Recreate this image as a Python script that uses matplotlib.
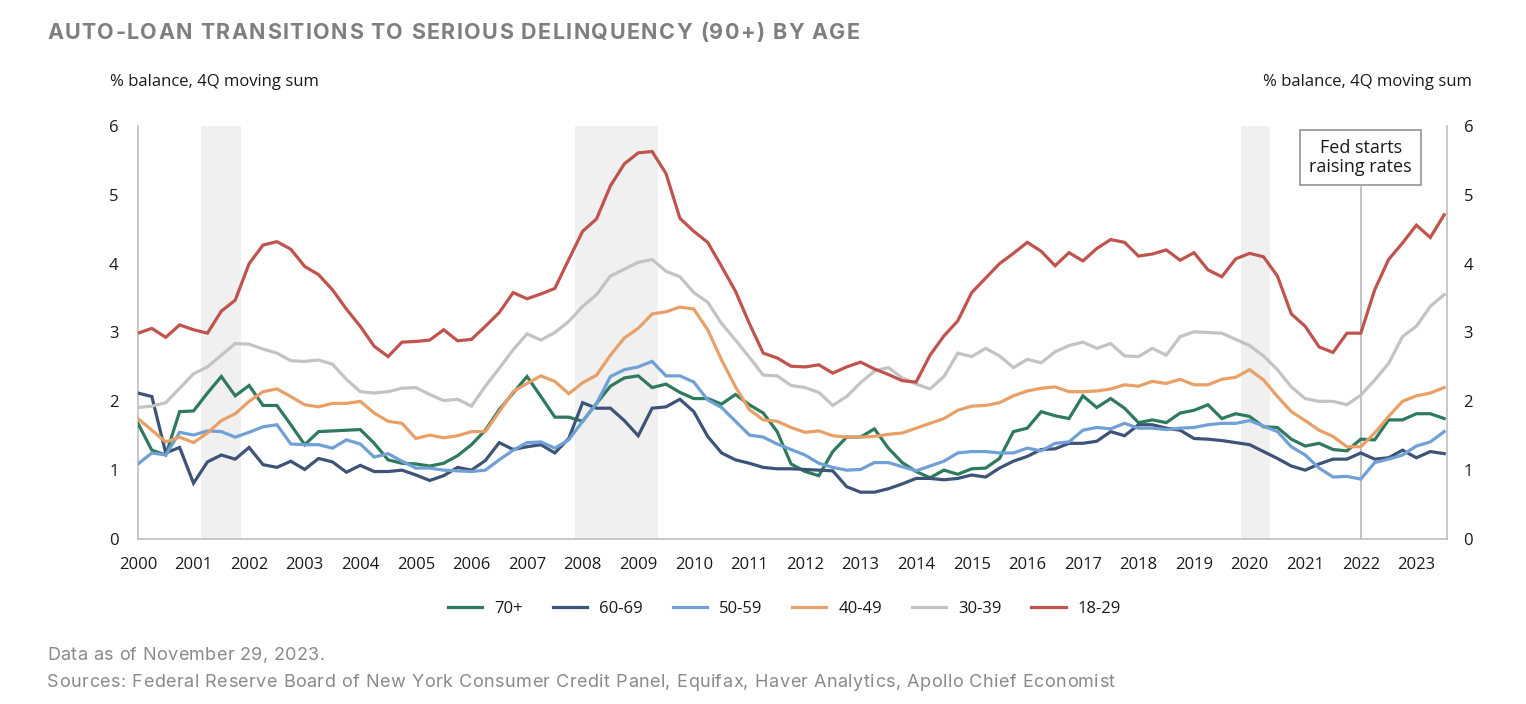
import numpy as np
import matplotlib
matplotlib.use("Agg")
import matplotlib.pyplot as plt
from matplotlib.font_manager import FontProperties, findfont, get_font

plt.rcParams["font.family"] = ["Open Sans", "DejaVu Sans"]

# quarterly, 2000Q1 .. 2023Q3
START_YEAR = 2000
age_groups = ["70+", "60-69", "50-59", "40-49", "30-39", "18-29"]
colors = ["#2e7a5c", "#3d5478", "#6fa0d6", "#e8a067", "#c3c3c3", "#c0544c"]

age_70_plus = [
    1.68, 1.29, 1.22, 1.85, 1.86, 2.12, 2.36, 2.08, 2.23, 1.94,
    1.94, 1.66, 1.37, 1.56, 1.57, 1.58, 1.59, 1.39, 1.15, 1.10,
    1.09, 1.06, 1.10, 1.21, 1.37, 1.58, 1.88, 2.12, 2.36, 2.07,
    1.77, 1.77, 1.71, 1.97, 2.22, 2.34, 2.37, 2.20, 2.25, 2.13,
    2.04, 2.04, 1.96, 2.10, 1.95, 1.83, 1.56, 1.09, 0.98, 0.92,
    1.27, 1.48, 1.48, 1.60, 1.32, 1.11, 0.98, 0.89, 1.00, 0.94,
    1.02, 1.03, 1.17, 1.56, 1.61, 1.85, 1.79, 1.75, 2.08, 1.91,
    2.04, 1.90, 1.69, 1.73, 1.69, 1.83, 1.87, 1.95, 1.75, 1.82,
    1.78, 1.63, 1.62, 1.45, 1.35, 1.39, 1.30, 1.28, 1.45, 1.44,
    1.73, 1.73, 1.82, 1.82, 1.75,
]
age_60_69 = [
    2.12, 2.07, 1.25, 1.33, 0.81, 1.12, 1.22, 1.16, 1.33, 1.08,
    1.04, 1.13, 1.01, 1.17, 1.12, 0.97, 1.07, 0.98, 0.98, 1.00,
    0.93, 0.85, 0.92, 1.04, 1.00, 1.14, 1.40, 1.30, 1.34, 1.37,
    1.25, 1.46, 1.98, 1.90, 1.90, 1.72, 1.50, 1.90, 1.92, 2.03,
    1.85, 1.49, 1.25, 1.15, 1.10, 1.04, 1.02, 1.02, 1.01, 1.00,
    0.99, 0.76, 0.68, 0.68, 0.73, 0.80, 0.88, 0.88, 0.86, 0.88,
    0.93, 0.90, 1.03, 1.13, 1.20, 1.30, 1.31, 1.39, 1.39, 1.42,
    1.56, 1.50, 1.66, 1.66, 1.61, 1.58, 1.46, 1.45, 1.43, 1.40,
    1.37, 1.27, 1.17, 1.06, 1.00, 1.09, 1.16, 1.16, 1.25, 1.16,
    1.18, 1.29, 1.18, 1.27, 1.24,
]
age_50_59 = [
    1.09, 1.25, 1.22, 1.55, 1.51, 1.57, 1.56, 1.48, 1.55, 1.63,
    1.66, 1.38, 1.37, 1.37, 1.32, 1.44, 1.38, 1.19, 1.24, 1.13,
    1.03, 1.03, 1.00, 0.99, 0.98, 1.00, 1.15, 1.29, 1.40, 1.41,
    1.32, 1.44, 1.71, 1.97, 2.36, 2.46, 2.50, 2.58, 2.37, 2.37,
    2.28, 2.02, 1.91, 1.71, 1.51, 1.48, 1.38, 1.30, 1.22, 1.10,
    1.04, 1.00, 1.01, 1.11, 1.11, 1.05, 0.99, 1.06, 1.13, 1.25,
    1.27, 1.27, 1.25, 1.25, 1.32, 1.28, 1.39, 1.41, 1.58, 1.62,
    1.60, 1.68, 1.61, 1.61, 1.59, 1.61, 1.62, 1.66, 1.68, 1.68,
    1.72, 1.64, 1.56, 1.34, 1.22, 1.03, 0.90, 0.91, 0.87, 1.11,
    1.16, 1.22, 1.35, 1.41, 1.56,
]
age_40_49 = [
    1.75, 1.58, 1.41, 1.48, 1.40, 1.54, 1.72, 1.82, 2.00, 2.14,
    2.18, 2.07, 1.95, 1.92, 1.97, 1.97, 2.00, 1.83, 1.71, 1.68,
    1.46, 1.51, 1.47, 1.50, 1.56, 1.56, 1.85, 2.14, 2.26, 2.37,
    2.29, 2.11, 2.27, 2.38, 2.67, 2.92, 3.06, 3.27, 3.30, 3.37,
    3.34, 3.04, 2.60, 2.21, 1.88, 1.73, 1.71, 1.62, 1.55, 1.57,
    1.50, 1.48, 1.48, 1.49, 1.52, 1.54, 1.61, 1.68, 1.75, 1.87,
    1.93, 1.94, 1.98, 2.08, 2.15, 2.19, 2.21, 2.14, 2.14, 2.15,
    2.18, 2.24, 2.22, 2.29, 2.26, 2.32, 2.24, 2.24, 2.32, 2.35,
    2.46, 2.31, 2.07, 1.85, 1.72, 1.58, 1.49, 1.34, 1.34, 1.54,
    1.78, 2.00, 2.08, 2.12, 2.20,
]
age_30_39 = [
    1.91, 1.93, 1.98, 2.19, 2.40, 2.50, 2.67, 2.84, 2.83, 2.76,
    2.70, 2.59, 2.58, 2.60, 2.54, 2.32, 2.14, 2.12, 2.14, 2.19,
    2.20, 2.10, 2.01, 2.03, 1.93, 2.22, 2.48, 2.75, 2.98, 2.89,
    3.00, 3.16, 3.38, 3.55, 3.82, 3.92, 4.02, 4.06, 3.89, 3.81,
    3.58, 3.44, 3.13, 2.89, 2.64, 2.38, 2.37, 2.23, 2.20, 2.13,
    1.94, 2.07, 2.27, 2.44, 2.49, 2.34, 2.25, 2.18, 2.36, 2.70,
    2.65, 2.77, 2.66, 2.49, 2.61, 2.56, 2.72, 2.81, 2.86, 2.77,
    2.84, 2.66, 2.65, 2.77, 2.67, 2.94, 3.01, 3.00, 2.99, 2.90,
    2.81, 2.66, 2.46, 2.21, 2.04, 2.00, 2.00, 1.95, 2.09, 2.31,
    2.55, 2.94, 3.09, 3.38, 3.55,
]
age_18_29 = [
    2.99, 3.06, 2.93, 3.11, 3.04, 2.99, 3.31, 3.47, 4.00, 4.27,
    4.32, 4.21, 3.96, 3.84, 3.62, 3.34, 3.09, 2.80, 2.65, 2.86,
    2.87, 2.89, 3.04, 2.88, 2.90, 3.09, 3.29, 3.58, 3.49, 3.56,
    3.64, 4.06, 4.47, 4.65, 5.13, 5.45, 5.61, 5.63, 5.31, 4.66,
    4.47, 4.31, 3.96, 3.60, 3.13, 2.70, 2.63, 2.51, 2.50, 2.53,
    2.41, 2.50, 2.57, 2.47, 2.39, 2.30, 2.28, 2.67, 2.95, 3.17,
    3.58, 3.79, 4.00, 4.15, 4.31, 4.18, 3.97, 4.16, 4.04, 4.22,
    4.35, 4.31, 4.11, 4.14, 4.20, 4.05, 4.16, 3.91, 3.81, 4.07,
    4.15, 4.10, 3.82, 3.27, 3.09, 2.79, 2.71, 2.99, 2.99, 3.62,
    4.06, 4.30, 4.56, 4.38, 4.71,
]
series = [age_70_plus, age_60_69, age_50_59, age_40_49, age_30_39, age_18_29]

# recession bars (fractional years) and the Fed marker
recessions = [(2001.13, 2001.85), (2007.86, 2009.36), (2019.84, 2020.37)]
FED_HIKE = 2022.0
year_ticks = list(range(2000, 2024))
y_ticks = [0, 1, 2, 3, 4, 5, 6]

TITLE = "AUTO-LOAN TRANSITIONS TO SERIOUS DELINQUENCY (90+) BY AGE"
NOTE_1 = "Data as of November 29, 2023."
NOTE_2 = ("Sources: Federal Reserve Board of New York Consumer Credit Panel, Equifax, "
          "Haver Analytics, Apollo Chief Economist")

TEXT = "#1a1a1a"
SPINE = "#bfbfbf"
NOTE = "#8a8a8a"

W_PX, H_PX = 1526, 704
fig = plt.figure(figsize=(W_PX / 100, H_PX / 100), dpi=100)
ax = fig.add_axes([0.0904, 0.2344, 0.8578, 0.5866])


def tracked_text(x_px, base_px, s, width_px, size, family, weight="normal", color=TEXT):
    """Draw s with extra letter spacing so it spans width_px (pixels)."""
    prop = FontProperties(family=family, size=size, weight=weight)
    try:
        from matplotlib._text_helpers import layout
        font = get_font(findfont(prop))
        font.set_size(size, fig.dpi)
        xs = [item.x for item in layout(s, font)]
        last = font.load_char(ord(s[-1])).linearHoriAdvance / 65536
        # rescale glyph offsets to what the renderer really draws
        probe = fig.text(0, 0, s, fontproperties=prop)
        natural = probe.get_window_extent(renderer=fig.canvas.get_renderer()).width
        probe.remove()
        scale = natural / (xs[-1] + last)
        xs = [x * scale for x in xs]
        track = max(0.0, (width_px - natural) / (len(s) - 1))
    except Exception:
        fig.text(x_px / W_PX, 1 - base_px / H_PX, s, fontproperties=prop,
                 color=color, va="baseline", ha="left")
        return
    for k, (ch, x) in enumerate(zip(s, xs)):
        if ch == " ":
            continue
        fig.text((x_px + x + k * track) / W_PX, 1 - base_px / H_PX, ch,
                 fontproperties=prop, color=color, va="baseline", ha="left")


for x0, x1 in recessions:
    ax.axvspan(x0, x1, color="#f0f0f0", zorder=0, lw=0)

quarters = START_YEAR + np.arange(len(age_18_29)) * 0.25
for name, vals, c in zip(age_groups, series, colors):
    ax.plot(quarters, vals, color=c, lw=2.3, label=name, zorder=3,
            solid_joinstyle="miter")

ax.set_xlim(2000, 2023.55)
ax.set_ylim(0, 6)
ax.set_xticks(year_ticks)
ax.set_xticklabels([str(y) for y in year_ticks])
ax.set_yticks(y_ticks)
ax.tick_params(axis="x", length=0, pad=13, labelsize=12, colors=TEXT)
ax.tick_params(axis="y", length=0, pad=14, labelsize=12, colors=TEXT)
for side in ["top", "right"]:
    ax.spines[side].set_visible(False)
for side in ["left", "bottom"]:
    ax.spines[side].set_color(SPINE)
    ax.spines[side].set_linewidth(1.2)

ax2 = ax.twinx()
ax2.set_ylim(0, 6)
ax2.set_yticks(y_ticks)
ax2.tick_params(axis="y", length=0, pad=12, labelsize=12, colors=TEXT)
for side in ["top", "left", "bottom"]:
    ax2.spines[side].set_visible(False)
ax2.spines["right"].set_color(SPINE)
ax2.spines["right"].set_linewidth(1.2)

# Fed annotation
box_bottom = 5.12
ax.axvline(FED_HIKE, ymin=0, ymax=box_bottom / 6, color="#b0b0b0", lw=1.1, zorder=2)
ax.text(FED_HIKE, 5.545, "Fed starts\nraising rates", ha="center", va="center",
        fontsize=13, color=TEXT, linespacing=1.05, zorder=5,
        bbox=dict(boxstyle="square,pad=0.5", fc="white", ec="#8a8a8a", lw=1.1))

tracked_text(47, 39, TITLE, 813, 15.5, "Inter", weight="bold", color="#7f7f7f")

fig.text(110 / W_PX, 1 - 82 / H_PX, "% balance, 4Q moving sum", fontsize=12,
         color=TEXT, va="center", ha="left")
fig.text(1472 / W_PX, 1 - 82 / H_PX, "% balance, 4Q moving sum", fontsize=12,
         color=TEXT, va="center", ha="right")

fig.legend(loc="center", bbox_to_anchor=(0.514, 1 - 609 / H_PX), ncol=6, frameon=False,
           fontsize=12, handlelength=2.05, columnspacing=1.8, handletextpad=0.72,
           labelcolor=TEXT)

tracked_text(47, 660, NOTE_1, 278, 13, "Inter", color=NOTE)
tracked_text(47, 687, NOTE_2, 1068, 13, "Inter", color=NOTE)

fig.savefig("out.png", dpi=100)
